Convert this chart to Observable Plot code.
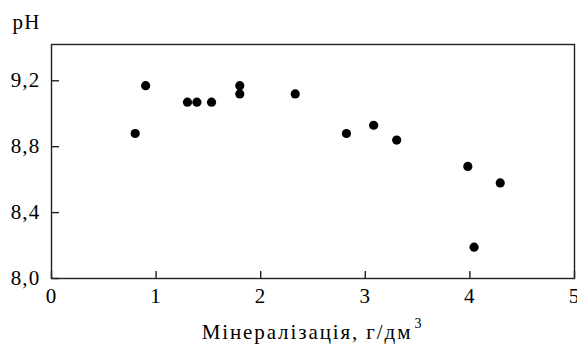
<!DOCTYPE html>
<html>
<head>
<meta charset="utf-8">
<script src="https://cdn.jsdelivr.net/npm/d3@7"></script>
<script src="https://cdn.jsdelivr.net/npm/@observablehq/plot@0.6"></script>
<style>
  html, body { margin: 0; padding: 0; background: #fff; }
  svg { display: block; }
  #chart svg, #chart svg g, #chart svg text {
    font-family: 'Liberation Serif', 'Times New Roman', serif !important;
  }
  #chart svg text { font-size: 21px; letter-spacing: 1.2px; }
  #chart svg .xlab text { letter-spacing: 1.9px; }
  #chart svg .sup text { font-size: 14px; letter-spacing: 0; }
</style>
</head>
<body>
<div id="chart"></div>
<script>
const mineralization = [0.80, 0.90, 1.30, 1.39, 1.53, 1.80, 1.80, 2.33, 2.82, 3.08, 3.30, 3.98, 4.04, 4.29];
const pH             = [8.88, 9.17, 9.07, 9.07, 9.07, 9.17, 9.12, 9.12, 8.88, 8.93, 8.84, 8.68, 8.19, 8.58];
const xTicks = [0, 1, 2, 3, 4, 5];
const yTicks = [8.0, 8.4, 8.8, 9.2];
const yTickLabels = ["8,0", "8,4", "8,8", "9,2"];
const xLabel = "Мінералізація, г/дм";
const xLabelSup = "3";
const yLabel = "pH";

const data = mineralization.map((m, i) => ({x: m, y: pH[i]}));

const chart = Plot.plot({
  width: 577,
  height: 347,
  marginLeft: 51,
  marginRight: 3,
  marginTop: 44,
  marginBottom: 69,
  style: {color: "#000", background: "#fff"},
  x: {domain: [0, 5]},
  y: {domain: [8.0, 9.42]},
  marks: [
    Plot.frame({stroke: "#222", strokeWidth: 1.4}),
    // inward ticks
    Plot.axisX(xTicks, {tickSize: 7, text: null, dy: -7, stroke: "#222", strokeWidth: 1.4, label: null}),
    Plot.axisY(yTicks, {tickSize: 8, text: null, dx: 8, stroke: "#222", strokeWidth: 1.4, label: null}),
    // tick labels
    Plot.axisX(xTicks, {tickSize: 0, tickPadding: 10, fill: "#000", label: null}),
    Plot.axisY(yTicks, {tickSize: 0, tickPadding: 11, fill: "#000",
      tickFormat: (d) => yTickLabels[yTicks.indexOf(d)], label: null}),
    // axis titles
    Plot.text([xLabel], {frameAnchor: "bottom", dx: -6, dy: 54, lineAnchor: "middle",
      textAnchor: "middle", fill: "#000", className: "xlab"}),
    Plot.text([xLabelSup], {frameAnchor: "bottom", dx: 105, dy: 45, lineAnchor: "middle",
      textAnchor: "middle", fill: "#000", className: "sup"}),
    Plot.text([yLabel], {frameAnchor: "top-left", dx: -39, dy: -30, textAnchor: "start",
      fill: "#000", lineAnchor: "top"}),
    Plot.dot(data, {x: "x", y: "y", r: 4.6, fill: "#000", stroke: "none"})
  ]
});
document.getElementById("chart").appendChild(chart);
</script>
</body>
</html>
